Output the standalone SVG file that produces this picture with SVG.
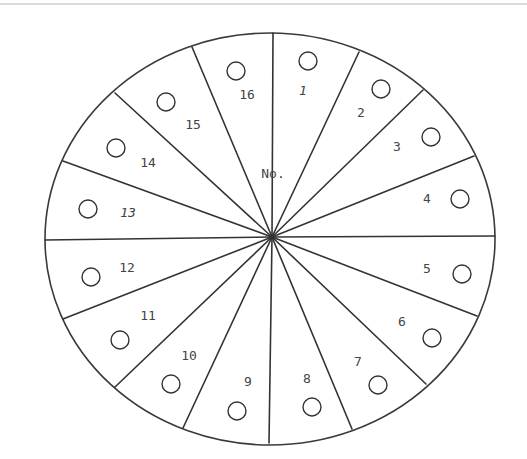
<svg xmlns="http://www.w3.org/2000/svg" width="527" height="459" viewBox="0 0 527 459">
<style>
.spoke{stroke:#333;stroke-width:1.6;fill:none;stroke-linecap:round}
.rim{stroke:#3a3a3a;stroke-width:1.6;fill:none}
.hole{stroke:#333;stroke-width:1.4;fill:none}
.lbl{font-family:"DejaVu Sans Mono","Liberation Mono",monospace;font-size:13px;fill:#444;text-anchor:middle;dominant-baseline:central}
.it{font-style:italic}
</style>
<rect width="527" height="459" fill="#fff"/>
<line x1="0" y1="4" x2="527" y2="4" stroke="#cfcfcf" stroke-width="1.5"/>
<ellipse class="rim" cx="270" cy="239" rx="225" ry="206"/>
<g id="connectors">
<line class="spoke" x1="272" y1="237" x2="273" y2="33"/>
<line class="spoke" x1="272" y1="237" x2="359" y2="52"/>
<line class="spoke" x1="272" y1="237" x2="423" y2="90"/>
<line class="spoke" x1="272" y1="237" x2="474" y2="156"/>
<line class="spoke" x1="272" y1="237" x2="495" y2="236"/>
<line class="spoke" x1="272" y1="237" x2="477" y2="316"/>
<line class="spoke" x1="272" y1="237" x2="426" y2="384"/>
<line class="spoke" x1="272" y1="237" x2="352" y2="429"/>
<line class="spoke" x1="272" y1="237" x2="269" y2="443"/>
<line class="spoke" x1="272" y1="237" x2="183" y2="428"/>
<line class="spoke" x1="272" y1="237" x2="115" y2="387"/>
<line class="spoke" x1="272" y1="237" x2="63" y2="319"/>
<line class="spoke" x1="272" y1="237" x2="45" y2="240"/>
<line class="spoke" x1="272" y1="237" x2="63" y2="161"/>
<line class="spoke" x1="272" y1="237" x2="115" y2="93"/>
<line class="spoke" x1="272" y1="237" x2="192" y2="47"/>
</g>
<g id="center-label"><text class="lbl" x="273" y="173">No.</text></g>
<g id="s1"><circle class="hole" cx="308" cy="61" r="9"/><text class="lbl it" x="303" y="90">1</text></g>
<g id="s2"><circle class="hole" cx="381" cy="89" r="9"/><text class="lbl" x="361" y="112">2</text></g>
<g id="s3"><circle class="hole" cx="431" cy="137" r="9"/><text class="lbl" x="397" y="146">3</text></g>
<g id="s4"><circle class="hole" cx="460" cy="199" r="9"/><text class="lbl" x="427" y="198">4</text></g>
<g id="s5"><circle class="hole" cx="462" cy="274" r="9"/><text class="lbl" x="427" y="268">5</text></g>
<g id="s6"><circle class="hole" cx="432" cy="338" r="9"/><text class="lbl" x="402" y="321">6</text></g>
<g id="s7"><circle class="hole" cx="378" cy="385" r="9"/><text class="lbl" x="358" y="361">7</text></g>
<g id="s8"><circle class="hole" cx="312" cy="407" r="9"/><text class="lbl" x="307" y="378">8</text></g>
<g id="s9"><circle class="hole" cx="237" cy="411" r="9"/><text class="lbl" x="248" y="381">9</text></g>
<g id="s10"><circle class="hole" cx="171" cy="384" r="9"/><text class="lbl" x="189" y="355">10</text></g>
<g id="s11"><circle class="hole" cx="120" cy="340" r="9"/><text class="lbl" x="148" y="315">11</text></g>
<g id="s12"><circle class="hole" cx="91" cy="277" r="9"/><text class="lbl" x="127" y="267">12</text></g>
<g id="s13"><circle class="hole" cx="88" cy="209" r="9"/><text class="lbl it" x="128" y="212">13</text></g>
<g id="s14"><circle class="hole" cx="116" cy="148" r="9"/><text class="lbl" x="148" y="162">14</text></g>
<g id="s15"><circle class="hole" cx="166" cy="102" r="9"/><text class="lbl" x="193" y="124">15</text></g>
<g id="s16"><circle class="hole" cx="236" cy="71" r="9"/><text class="lbl" x="247" y="94">16</text></g>
</svg>
